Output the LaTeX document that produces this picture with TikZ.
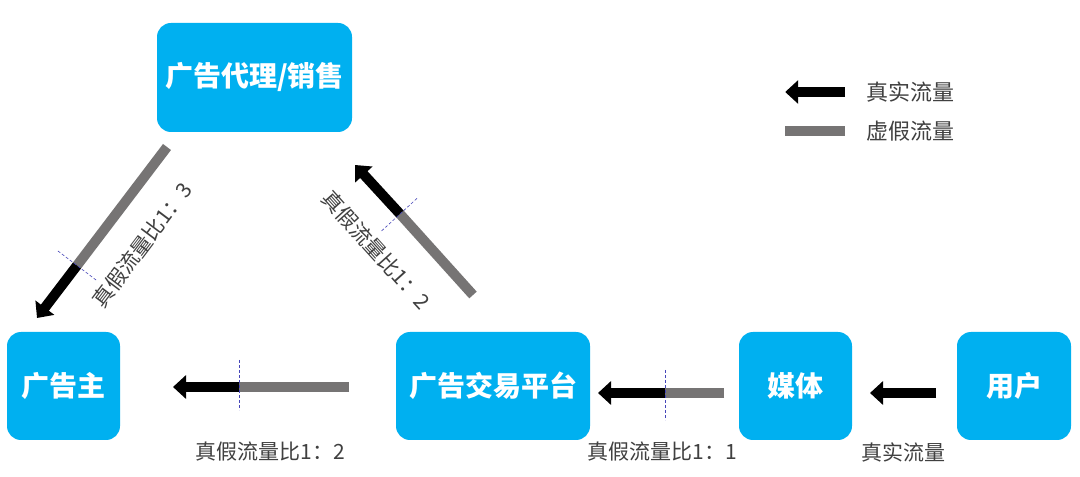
\documentclass[tikz,border=0pt]{standalone}
\usepackage{fontspec}
\setmainfont{Noto Sans CJK SC}
\usetikzlibrary{arrows.meta,calc}

\definecolor{adblue}{RGB}{0,176,240}
\definecolor{fakegray}{RGB}{118,116,116}
\definecolor{labelgray}{RGB}{64,64,64}

\tikzset{
  adbox/.style={rectangle, rounded corners=14pt, fill=adblue, text=white, inner sep=0pt,
    minimum width=113pt, minimum height=108pt, font=\bfseries\fontsize{28}{30}\selectfont},
  realflow/.style={draw=black, line width=10pt, -{Triangle[width=23pt,length=13pt]}},
  fakeflow/.style={draw=fakegray, line width=10pt},
  splitmark/.style={draw=blue!45!gray, densely dashed, line width=0.6pt},
  ratiolabel/.style={text=labelgray, inner sep=0pt, font=\fontsize{21}{23}\selectfont},
}

\begin{document}
\begin{tikzpicture}[x=1pt, y=1pt]
  \path[use as bounding box, fill=white] (0,0) rectangle (1080,477);

  % boxes
  \node[adbox, minimum width=195pt, minimum height=109pt] (daili) at (254.5,399.5) {广告代理/销售};
  \node[adbox] (zhu) at (63.5,91) {广告主};
  \node[adbox, minimum width=194pt] (jiaoyi) at (493,91) {广告交易平台};
  \node[adbox] (meiti) at (795.5,91) {媒体};
  \node[adbox, minimum width=114pt] (yonghu) at (1014,91) {用户};

  % free ends of the flows
  \coordinate (lstart) at (167,330);
  \coordinate (lsplit) at (77,211.5);
  \coordinate (ltip)   at (37,159);
  \coordinate (rstart) at (473,182);
  \coordinate (rsplit) at (400,263);
  \coordinate (rtip)   at (355,312);
  \coordinate (astart) at (349,90);
  \coordinate (asplit) at (239,90);
  \coordinate (atip)   at (173,90);
  \coordinate (bstart) at (724,84);
  \coordinate (bsplit) at (665,84);
  \coordinate (btip)   at (598,84);
  \coordinate (cstart) at (936,84);
  \coordinate (ctip)   at (870,84);

  % daili -> zhu
  \draw[fakeflow] (lstart) -- (lsplit);
  \draw[realflow] (lsplit) -- (ltip);
  \draw[splitmark] ($(lsplit)!24pt!90:(ltip)$) -- ($(lsplit)!24pt!-90:(ltip)$);
  \node[ratiolabel, rotate=53] (llabel) at (142,232) {真假流量比1：3};

  % jiaoyi -> daili
  \draw[fakeflow] (rstart) -- (rsplit);
  \draw[realflow] (rsplit) -- (rtip);
  \draw[splitmark] ($(rsplit)!25pt!90:(rtip)$) -- ($(rsplit)!25pt!-90:(rtip)$);
  \node[ratiolabel, rotate=-48] (rlabel) at (376,227) {真假流量比1：2};

  % jiaoyi -> zhu
  \draw[fakeflow] (astart) -- (asplit);
  \draw[realflow] (asplit) -- (atip);
  \draw[splitmark] ([yshift=27pt]asplit) -- ([yshift=-23pt]asplit);
  \node[ratiolabel] (alabel) at (270,25) {真假流量比1：2};

  % meiti -> jiaoyi
  \draw[fakeflow] (bstart) -- (bsplit);
  \draw[realflow] (bsplit) -- (btip);
  \draw[splitmark] ([yshift=23pt]bsplit) -- ([yshift=-27pt]bsplit);
  \node[ratiolabel] (blabel) at (662,25) {真假流量比1：1};

  % yonghu -> meiti
  \draw[realflow] (cstart) -- (ctip);
  \node[ratiolabel] (clabel) at (903,25) {真实流量};

  % legend
  \matrix (legend) [anchor=west, inner sep=0pt, column sep=16pt, row sep=0pt,
      nodes={inner sep=0pt, minimum height=39pt, anchor=center}, ampersand replacement=\&] at (780,365.5) {
    \node (legend-real) {\tikz[baseline=-0.5ex]{\draw[realflow] (60pt,0) -- (0,0);}}; \& \node[ratiolabel, font=\fontsize{22}{24}\selectfont] (legend-realtext) {真实流量}; \\
    \node (legend-fake) {\tikz[baseline=-0.5ex]{\draw[fakeflow] (0,0) -- (60pt,0);}}; \& \node[ratiolabel, font=\fontsize{22}{24}\selectfont] (legend-faketext) {虚假流量}; \\
  };
\end{tikzpicture}
\end{document}
